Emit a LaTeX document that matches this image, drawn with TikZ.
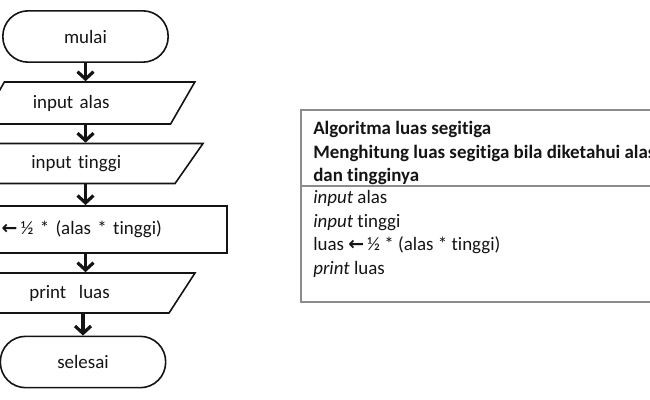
\documentclass[tikz,border=0pt]{standalone}
\usepackage{fontspec}
\setmainfont{Carlito}[Ligatures={NoCommon}]
\newfontfamily\arrowfont{DejaVu Sans}
\usetikzlibrary{shapes.geometric, arrows.meta, positioning}
\definecolor{inkblack}{RGB}{20,20,20}
\definecolor{boxgray}{RGB}{140,140,140}

\tikzset{
  terminal/.style={draw=inkblack, line width=1.2pt, rounded corners=19pt, minimum width=124pt, minimum height=38.5pt},
  ioshape/.style={draw=inkblack, line width=1.2pt, trapezium, trapezium stretches body,
    trapezium left angle=#1, trapezium right angle={180-#1}, text width=82pt, align=left},
  ioshape/.default=45,
  process/.style={draw=inkblack, line width=1.2pt, rectangle, minimum width=211.5pt, minimum height=35.5pt, text width=182pt, align=left},
  flowline/.style={line width=2.4pt, inkblack, -{Straight Barb[length=5.5pt, width=12pt]}},
  algobox/.style={draw=boxgray, line width=1.1pt, rectangle, minimum width=299pt, minimum height=144pt}
}

\begin{document}
\begin{tikzpicture}[x=0.75pt, y=-0.75pt, font=\fontsize{14.2}{16}\selectfont, text=inkblack]
    \useasboundingbox (0,0) rectangle (650,400);
    \clip (0,0) rectangle (650,400);

    \node[terminal] (mulai) at (85.5,36.5) {mulai};
    \node[ioshape=46, minimum width=161pt, minimum height=31.5pt] (alas) at (87.5,103) {input alas};
    \node[ioshape=42, minimum width=175.5pt, minimum height=30pt] (tinggi) at (86,163.5) {input tinggi};
    \node[process] (hitung) at (86,229.5) {luas {\arrowfont\bfseries ←}\,½ * (alas * tinggi)};
    \node[ioshape=44, minimum width=166.5pt, minimum height=30pt] (cetak) at (84,293) {print~ luas};
    \node[terminal] (selesai) at (83,362) {selesai};

    \draw[flowline] (mulai.south) -- (mulai.south |- alas.north);
    \draw[flowline] (alas.south -| mulai.south) -- (mulai.south |- tinggi.north);
    \draw[flowline] (tinggi.south -| mulai.south) -- (mulai.south |- hitung.north);
    \draw[flowline] (hitung.south -| mulai.south) -- (mulai.south |- cetak.north);
    \draw[flowline] (cetak.south -| selesai.north) -- (selesai.north);

    \node[algobox] (algo) at (500.5,206) {};
    \coordinate (garis) at (301,186);
    \draw[boxgray, line width=1.1pt] (algo.west |- garis) -- (algo.east |- garis);
    \node[anchor=north west, inner sep=0pt, align=left, font=\fontsize{14.2}{17.6}\selectfont\bfseries] (judul) at (313,121)
        {Algoritma luas segitiga\\Menghitung luas segitiga bila diketahui alas\\dan tingginya};
    \node[anchor=north west, inner sep=0pt, align=left, font=\fontsize{14.2}{17.8}\selectfont] (langkah) at (313,190)
        {\textit{input} alas\\\textit{input} tinggi\\luas {\arrowfont\bfseries ←}\,½ * (alas * tinggi)\\\textit{print} luas};
\end{tikzpicture}
\end{document}
